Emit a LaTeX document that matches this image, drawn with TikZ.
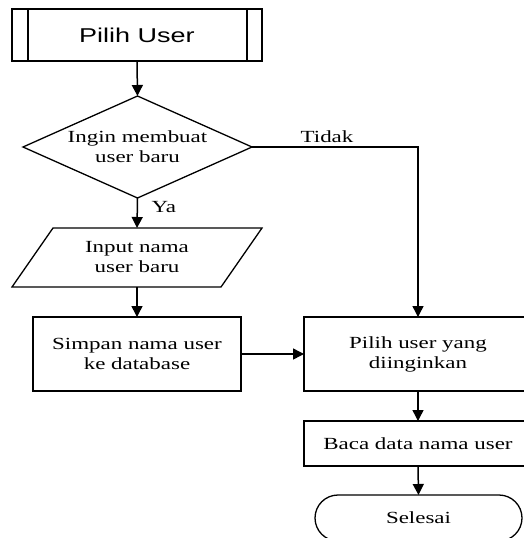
\documentclass[tikz,border=0pt]{standalone}
\usepackage{fontspec}
\setmainfont{Liberation Serif}[FakeStretch=1.35]
\newfontfamily\arialf{Liberation Sans}[FakeStretch=1.35]
\usetikzlibrary{arrows.meta,shapes.misc}
\begin{document}
\begin{tikzpicture}[x=1pt,y=-1pt,
  line width=1.3pt,
  txt/.style={font=\fontsize{17}{20}\selectfont, align=center, inner sep=0pt, outer sep=0pt},
  boxnode/.style={txt, draw, rectangle},
  arr/.style={-{Triangle[length=11pt,width=11pt]}, line width=1.5pt},
  lbl/.style={font=\fontsize{17}{20}\selectfont, inner sep=0pt, anchor=base west}
]
\useasboundingbox (0,0) rectangle (524,538);
% start (predefined process)
\node[draw, rectangle, minimum width=250pt, minimum height=52pt, inner sep=0pt, outer sep=0pt,
  font=\arialf\fontsize{20}{24}\selectfont] (pilih) at (137,35) {Pilih User};
\draw ([xshift=16pt]pilih.north west) -- ([xshift=16pt]pilih.south west);
\draw ([xshift=-15pt]pilih.north east) -- ([xshift=-15pt]pilih.south east);
% decision
\node[txt, minimum width=229pt, minimum height=102pt] (dia) at (137.5,147) {Ingin membuat\\user baru};
\draw (dia.north) -- (dia.east) -- (dia.south) -- (dia.west) -- cycle;
% input parallelogram
\node[txt, minimum width=250pt, minimum height=59pt] (inp) at (137,257.5) {Input nama\\user baru};
\draw ([xshift=41pt]inp.north west) -- (inp.north east) -- ([xshift=-41pt]inp.south east) -- (inp.south west) -- cycle;
% process boxes
\node[boxnode, minimum width=208pt, minimum height=74pt] (simpan) at (137,354) {Simpan nama user\\ke database};
\node[boxnode, minimum width=228pt, minimum height=74pt] (pu) at (418,354) {Pilih user yang\\diinginkan};
\node[boxnode, minimum width=228pt, minimum height=45pt] (baca) at (418,443.5) {Baca data nama user};
\node[txt, draw, rounded rectangle, minimum width=207pt, minimum height=46pt] (sel) at (418.5,518) {Selesai};
% connectors
\draw[arr] (pilih.south) -- (dia.north);
\draw[arr] (dia.south) -- (inp.north);
\draw[arr] (dia.east) -| (pu.north);
\draw[arr] (inp.south) -- (simpan.north);
\draw[arr] (simpan.east) -- (pu.west);
\draw[arr] (pu.south) -- (baca.north);
\draw[arr] (baca.south) -- (sel.north);
% labels
\node[lbl] (tidak) at (300,142) {Tidak};
\node[lbl] (ya) at (151,212) {Ya};
\end{tikzpicture}
\end{document}
